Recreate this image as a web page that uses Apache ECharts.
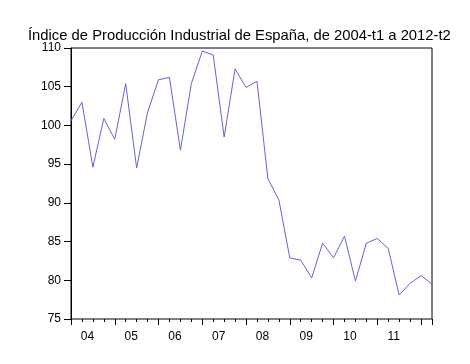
<!DOCTYPE html>
<html>
<head>
<meta charset="utf-8">
<script src="https://cdn.jsdelivr.net/npm/echarts@6/dist/echarts.min.js"></script>
<style>html,body{margin:0;padding:0;background:#fff;}#c{width:470px;height:364px;}</style>
</head>
<body>
<div id="c"></div>
<script>
const titleText = 'Índice de Producción Industrial de España, de 2004-t1 a 2012-t2';
const yearLabels = ['04','05','06','07','08','09','10','11'];
const yTicks = [75, 80, 85, 90, 95, 100, 105, 110];
const values = [100.6, 103.0, 94.6, 100.9, 98.2, 105.4, 94.5, 101.7, 105.9, 106.2,
                96.8, 105.4, 109.6, 109.1, 98.5, 107.3, 104.9, 105.7, 93.1, 90.4,
                82.9, 82.6, 80.3, 84.8, 82.9, 85.7, 79.9, 84.8, 85.4, 84.1,
                78.1, 79.6, 80.6, 79.5];

const chart = echarts.init(document.getElementById('c'), null, {renderer: 'canvas'});
const n = values.length;
const font = 'Liberation Sans, Arial, sans-serif';
const data = values.map((v, i) => [i, v]);
// half-quarter slots across the plot; year label sits at the middle of each year
const halfSlots = [];
for (let j = 0; j < 2 * (n - 1) + 1; j++) {
  const k = (j - 3) / 8;
  halfSlots.push(Number.isInteger(k) && yearLabels[k] !== undefined ? yearLabels[k] : '');
}
const axisCommon = {
  type: 'value', position: 'bottom', min: 0, max: n - 1,
  axisLine: {show: false}, splitLine: {show: false}
};
chart.setOption({
  animation: false,
  title: {
    text: titleText, left: 23, top: 23,
    textStyle: {fontFamily: font, fontSize: 14.8, fontWeight: 'normal', color: '#000'}
  },
  grid: {left: 71, right: 38, top: 48, bottom: 45, show: true, borderColor: '#000', borderWidth: 1, backgroundColor: 'transparent'},
  xAxis: [
    Object.assign({}, axisCommon, {
      interval: 1,
      axisTick: {show: true, inside: false, length: 3, lineStyle: {color: '#000'}},
      axisLabel: {show: false}
    }),
    Object.assign({}, axisCommon, {
      interval: 4,
      axisTick: {show: true, inside: false, length: 6, lineStyle: {color: '#000'}},
      axisLabel: {show: false}
    }),
    {
      type: 'category', position: 'bottom', boundaryGap: false, data: halfSlots,
      axisLine: {show: false}, splitLine: {show: false}, axisTick: {show: false},
      axisLabel: {
        show: true, margin: 12, fontFamily: font, fontSize: 12, color: '#000',
        interval: function (idx, val) { return val !== ''; }
      }
    }
  ],
  yAxis: {
    type: 'value', min: yTicks[0], max: yTicks[yTicks.length - 1], interval: 5,
    axisLine: {show: true, lineStyle: {color: '#000'}},
    axisTick: {show: true, inside: false, length: 7, lineStyle: {color: '#000'}},
    splitLine: {show: false},
    axisLabel: {margin: 10, fontFamily: font, fontSize: 12, color: '#000'}
  },
  series: [{
    type: 'line', xAxisIndex: 0, data: data, showSymbol: false, symbol: 'none',
    lineStyle: {color: '#6464d2', width: 1}
  }]
});
</script>
</body>
</html>
